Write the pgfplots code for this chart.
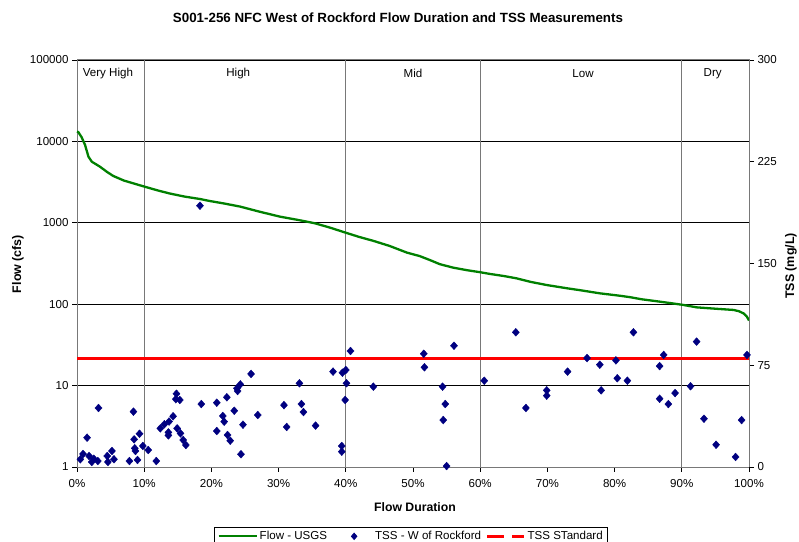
\documentclass[border=0pt]{standalone}
\usepackage{pgfplots}
\pgfplotsset{compat=1.18}
\usepackage{fontspec}
\setmainfont{Liberation Sans}

\definecolor{flowgreen}{RGB}{0,128,0}
\definecolor{tssnavy}{RGB}{0,0,128}
\definecolor{framegray}{RGB}{120,120,120}

% legend samples
\pgfplotsset{
  flow legend/.style={legend image code/.code={\draw[##1] (0bp,0bp) -- (38bp,0bp);}},
  tss legend/.style={legend image code/.code={\path[draw=none] (0bp,0bp) (44bp,0bp); \draw[##1, only marks] plot coordinates {(25bp,0bp)};}},
  std legend/.style={legend image code/.code={\path[draw=none] (0bp,0bp) (41bp,0bp); \draw[##1] (4bp,0bp) -- (41bp,0bp);}},
}

% Flow duration curve, USGS gauge (percent of time exceeded, cfs)
\pgfplotstableread{
pct flow
0.0 13200
0.2 13000
0.7 11200
1.2 9040
1.7 6500
2.2 5630
3.4 4900
4.5 4200
5.4 3760
7.0 3300
9.6 2850
12.0 2500
13.8 2290
16.0 2100
18.3 1960
19.8 1850
22.0 1720
24.3 1580
27.0 1380
30.2 1190
33.0 1080
35.4 986
37.5 880
39.9 760
42.0 670
44.1 600
46.5 520
49.1 430
51.0 390
52.5 349
54.0 310
56.0 281
58.0 262
60.0 247
61.5 235
63.5 222
65.4 208
67.5 188
69.9 172
72.9 157
75.0 148
77.8 136
80.8 127
82.3 122
84.0 115
85.8 110
88.0 104
90.2 98
92.2 91.5
95.0 88
97.7 85
98.5 82
99.2 77
99.7 70
100.0 63
}\flowdata

% TSS samples, W of Rockford (flow duration percent, mg/L)
\pgfplotstableread{
pct tss
0.5 5.7
0.9 9.6
1.5 21.6
1.8 8.1
2.2 3.7
2.5 6.1
3.1 4.4
3.2 43.5
4.5 8.1
4.6 3.7
5.2 11.8
5.5 5.7
7.8 4.4
8.4 40.8
8.5 20.4
8.6 13.8
8.7 11.8
9.0 5.2
9.3 24.5
9.8 15.5
10.6 12.5
11.8 4.4
12.4 28.5
13.0 31.5
13.7 33.5
14.3 37.4
13.6 25.5
13.6 23.3
14.7 50.0
14.8 54.0
15.3 49.4
14.9 28.5
15.4 24.8
15.8 19.9
16.2 16.2
18.3 192.6
18.5 46.4
20.8 47.4
20.8 26.5
21.7 37.6
21.9 33.4
22.3 51.4
22.4 23.6
22.8 19.4
23.4 41.5
23.8 58.0
23.9 56.0
24.3 60.9
24.7 31.2
24.4 9.4
25.9 68.6
26.9 38.3
30.8 45.6
31.2 29.5
33.1 61.7
33.4 46.4
33.7 40.5
35.5 30.5
38.1 70.3
39.5 69.5
40.0 71.5
40.1 61.7
39.9 49.4
40.7 85.5
39.4 15.5
39.4 11.3
44.1 59.2
51.6 83.5
51.7 73.5
56.1 89.4
54.4 59.2
54.8 46.4
54.5 34.6
55.0 0.7
60.6 63.6
65.3 99.3
66.8 43.5
69.9 56.5
69.9 52.6
73.0 70.3
75.9 80.3
77.8 75.4
78.0 56.5
80.2 78.6
80.4 65.4
81.9 63.6
82.8 99.3
86.7 74.4
87.3 82.6
86.7 50.3
88.0 46.4
89.0 54.5
91.3 59.5
92.2 92.4
93.3 35.6
95.1 16.4
98.0 7.4
98.9 34.6
99.7 82.6
}\tssdata

\newcommand{\lbl}{\fontsize{11.6}{13.5}\selectfont}

\begin{document}
\begin{tikzpicture}
\path[use as bounding box] (0bp,0bp) rectangle (799bp,542bp);

% chart title and outer axis titles
\node[font=\fontsize{13.4}{16}\selectfont\bfseries] at (398bp,524bp) {S001-256 NFC West of Rockford Flow Duration and TSS Measurements};
\node[font=\fontsize{12.3}{15}\selectfont\bfseries] at (415bp,35bp) {Flow Duration};
\node[font=\fontsize{12.5}{15}\selectfont\bfseries, rotate=90] at (18bp,278bp) {Flow (cfs)};
\node[font=\fontsize{12.5}{15}\selectfont\bfseries, rotate=90] at (791bp,276bp) {TSS (mg/L)};

% primary axis: flow on a log scale
\begin{axis}[
  at={(77bp,75bp)}, anchor=south west,
  scale only axis, width=672bp, height=407bp,
  xmin=0, xmax=100, ymode=log, ymin=1, ymax=100000,
  axis line style={framegray, line width=1bp},
  xtick={0,10,...,100},
  xticklabels={0\%,10\%,20\%,30\%,40\%,50\%,60\%,70\%,80\%,90\%,100\%},
  ytick={1,10,100,1000,10000,100000},
  yticklabels={1,10,100,1000,10000,100000},
  yminorticks=false,
  xtick pos=bottom, ytick pos=left,
  tick align=outside, major tick length=5bp,
  tick style={black, line width=0.8bp},
  tick label style={font=\lbl},
  xticklabel style={yshift=-4bp},
  ymajorgrids, grid style={black, line width=0.7bp},
  clip=false,
]
% flow regime boundaries
\foreach \b in {10,40,60,90} {
  \edef\tmp{\noexpand\draw[framegray, line width=1.3bp] (axis cs:\b,1) -- (axis cs:\b,100000);}
  \tmp
}
\node[font=\lbl] at (rel axis cs:0.046,0.966) {Very High};
\node[font=\lbl] at (rel axis cs:0.240,0.966) {High};
\node[font=\lbl] at (rel axis cs:0.500,0.966) {Mid};
\node[font=\lbl] at (rel axis cs:0.753,0.966) {Low};
\node[font=\lbl] at (rel axis cs:0.946,0.966) {Dry};
\addplot[flowgreen, line width=2.3bp] table[x=pct, y=flow] {\flowdata};
\end{axis}

% secondary axis: TSS concentration
\begin{axis}[
  at={(77bp,75bp)}, anchor=south west,
  scale only axis, width=672bp, height=407bp,
  xmin=0, xmax=100, ymin=0, ymax=300,
  axis x line=none, axis y line*=right,
  axis line style={framegray, line width=1bp},
  ytick={0,75,150,225,300},
  tick align=outside, major tick length=5bp,
  tick style={black, line width=0.8bp},
  tick label style={font=\lbl},
  /pgf/number format/assume math mode=true,
  legend columns=3,
  legend style={at={(rel axis cs:0.2039,-0.1474)}, anchor=north west,
    draw=black, line width=0.8bp, font=\lbl,
    inner xsep=3bp, inner ysep=3bp,
    nodes={inner xsep=2bp, inner ysep=1bp},
    /tikz/every even column/.append style={column sep=0bp},
    /tikz/every odd column/.append style={column sep=0bp}},
]
\addlegendimage{flowgreen, line width=2.3bp, flow legend}
\addlegendentry{Flow - USGS}
\addlegendimage{only marks, mark=diamond*, mark size=3.2bp, mark options={xscale=1.15}, tssnavy, tss legend}
\addlegendentry{TSS - W of Rockford}
\addlegendimage{red, line width=3bp, dash pattern=on 17bp off 8bp, std legend}
\addlegendentry{TSS STandard}

\addplot[red, line width=3bp, forget plot] coordinates {(0,80) (100,80)};
\addplot[only marks, mark=diamond*, mark size=3.9bp, mark options={xscale=1.2}, color=tssnavy, forget plot] table[x=pct, y=tss] {\tssdata};
\end{axis}
\end{tikzpicture}
\end{document}
